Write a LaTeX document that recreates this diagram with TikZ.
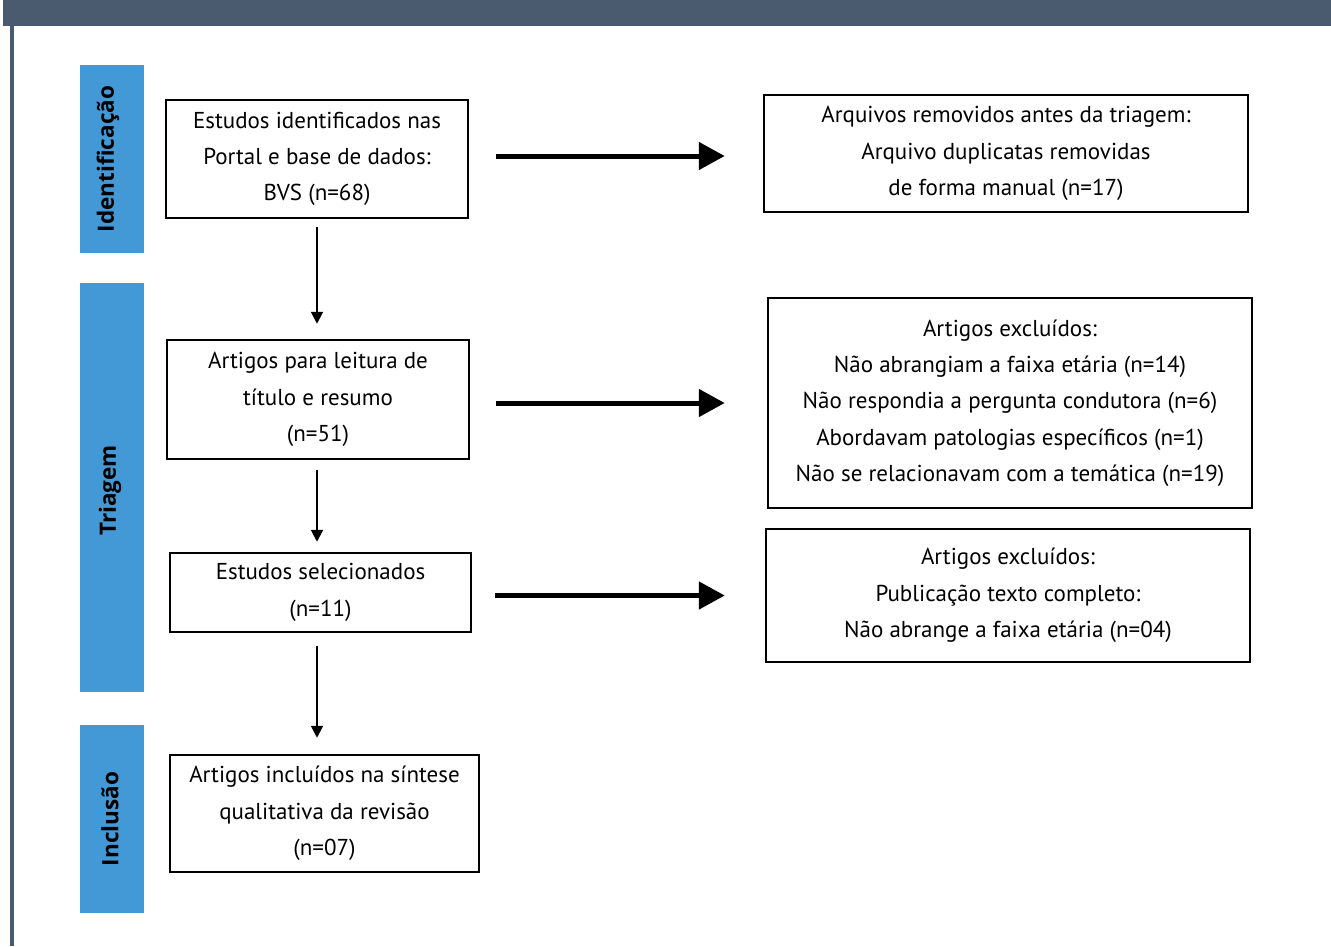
\documentclass[tikz,border=0pt]{standalone}
\usepackage{fontspec}
\setmainfont{PT Sans}
\newfontfamily\labelfont{Open Sans}
\usetikzlibrary{arrows.meta,calc}
\definecolor{barcol}{HTML}{4A5B6F}
\definecolor{stagecol}{HTML}{4399D6}
\begin{document}
\begin{tikzpicture}[x=1pt,y=-1pt,
  box/.style={draw=black,line width=2.5pt,fill=white,inner sep=0pt,align=center,
    font=\fontsize{23}{36.3}\selectfont},
  stage/.style={fill=stagecol,inner sep=0pt},
  stagetext/.style={rotate=90,font=\labelfont\bfseries\fontsize{22.5}{24}\selectfont,inner sep=0pt},
  bigarrow/.style={line width=5pt,-{Triangle[length=26pt,width=27pt]}},
  smallarrow/.style={line width=2pt,-{Triangle[length=12pt,width=12pt]}}]
\useasboundingbox (0,0) rectangle (1331,946);
% header bar and left rule
\fill[barcol] (3,0) rectangle (1331,26);
\fill[barcol] (10,26) rectangle (13.5,946);
% stage bands
\node[stage,minimum width=64pt,minimum height=188pt] (sId) at (112,159) {};
\node[stage,minimum width=64pt,minimum height=409pt] (sTr) at (112,487.5) {};
\node[stage,minimum width=64pt,minimum height=188pt] (sIn) at (112,819) {};
\node[stagetext] (tId) at ($(sId.center)+(-4,0)$) {Identificação};
\node[stagetext] (tTr) at ($(sTr.center)+(-2,3)$) {Triagem};
\node[stagetext] (tIn) at ($(sIn.center)+(-2,0)$) {Inclusão};
% left column boxes
\node[box,minimum width=302pt,minimum height=118pt] (b1) at (317,159)
  {\raisebox{-4pt}{}Estudos identificados nas\\Portal e base de dados:\\BVS (n=68)};
\node[box,minimum width=302pt,minimum height=119pt] (b2) at (318,399.5)
  {Artigos para leitura de\\título e resumo\\(n=51)};
\node[box,minimum width=301pt,minimum height=79pt] (b3) at (320.5,592.5)
  {Estudos selecionados\\(n=11)};
\node[box,minimum width=309pt,minimum height=117pt] (b4) at (324.5,813.5)
  {Artigos incluídos na síntese\\qualitativa da revisão\\(n=07)};
% right column boxes
\node[box,minimum width=484pt,minimum height=117pt] (r1) at (1006,153.5)
  {Arquivos removidos antes da triagem:\\Arquivo duplicatas removidas\\de forma manual (n=17)};
\node[box,minimum width=484pt,minimum height=210pt] (r2) at (1010,403)
  {Artigos excluídos:\\Não abrangiam a faixa etária (n=14)\\Não respondia a pergunta condutora (n=6)\\Abordavam patologias específicos (n=1)\\Não se relacionavam com a temática (n=19)};
\node[box,minimum width=484pt,minimum height=133pt] (r3) at (1008,595.5)
  {Artigos excluídos:\\Publicação texto completo:\\Não abrange a faixa etária (n=04)};
% horizontal arrows
\draw[bigarrow,shorten <=27pt,shorten >=38pt] ($(b1.east)+(0,-3)$) -- ($(b1.east -| r1.west)+(0,-3)$);
\draw[bigarrow,shorten <=26pt,shorten >=42pt] (b2.east |- r2.west) -- (r2.west);
\draw[bigarrow,shorten <=23pt,shorten >=40pt] (b3.east |- r3.west) -- (r3.west);
% vertical arrows
\draw[smallarrow,shorten <=8pt,shorten >=15pt] (b1.south) -- (b1.south |- b2.north);
\draw[smallarrow,shorten <=10pt,shorten >=10pt] (b1.south |- b2.south) -- (b1.south |- b3.north);
\draw[smallarrow,shorten <=13pt,shorten >=16pt] (b1.south |- b3.south) -- (b1.south |- b4.north);
\end{tikzpicture}
\end{document}
